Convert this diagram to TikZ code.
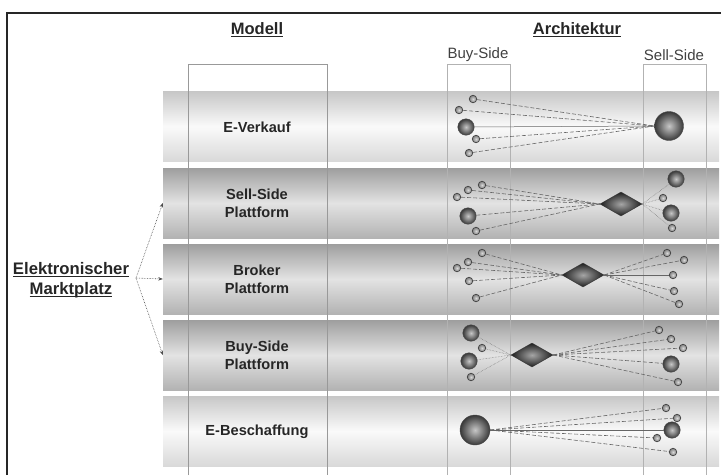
\documentclass[tikz,border=0pt]{standalone}
\usepackage{fontspec}
\setmainfont{Liberation Sans}
\usetikzlibrary{shapes.geometric,arrows.meta}
\def\ulword#1{\leavevmode\setbox0=\hbox{#1}\rlap{\rule[-2.6pt]{\wd0}{1.4pt}}\box0}
\tikzset{
	band/.style={minimum width=556pt, minimum height=70pt, inner sep=0pt},
	paleband/.style={band, top color=black!22, bottom color=black!15, middle color=black!2},
	greyband/.style={band, top color=black!38, bottom color=black!30, middle color=black!11},
	title/.style={font=\fontsize{16.5}{20}\selectfont\bfseries, text=black!85},
	sidetag/.style={font=\fontsize{15}{18}\selectfont, text=black!75},
	tag/.style={font=\fontsize{14.6}{17.7}\selectfont\bfseries, text=black!85, align=center},
	column/.style={line width=0.7pt, draw=black!30},
	knot/.style={circle, inner sep=0pt, minimum size=7.5pt, draw=black!75, line width=0.7pt, inner color=black!15, outer color=black!50},
	orb/.style={circle, inner sep=0pt, minimum size=16.5pt, draw=black!70, line width=0.4pt, inner color=black!22, outer color=black!78},
	bigorb/.style={orb, minimum size=29pt},
	hub/.style={diamond, inner sep=0pt, minimum width=42pt, minimum height=24pt, draw=black!80, line width=0.4pt, inner color=black!35, outer color=black!88},
	link/.style={line width=0.6pt, draw=black!60, dash pattern=on 4pt off 2pt},
	wire/.style={line width=0.5pt, draw=black!60},
	fine/.style={line width=0.5pt, draw=black!55, densely dotted},
	pointer/.style={line width=0.6pt, draw=black!70, densely dotted, -{Stealth[length=4.5pt,width=3.5pt]}}
}

\begin{document}
\begin{tikzpicture}[x=1pt, y=-1pt]
			%%%%% START %%%%%
			
			\useasboundingbox (0, 0) rectangle (721, 475);
			\draw[line width=1.5pt, color=black!85] (7, 475) -- (7, 13) -- (721, 13);
			
			\node[paleband] (verkauf) at (441, 126.5) {};
			\node[greyband] (sellpf) at (441, 203) {};
			\node[greyband] (brokerpf) at (441, 279) {};
			\node[greyband] (buypf) at (441, 355) {};
			\node[paleband] (beschaffung) at (441, 431) {};
			
			\draw[column, draw=black!40] (188, 475) -- (188, 64) -- (327, 64) -- (327, 475);
			\draw[column] (447, 475) -- (447, 64) -- (510, 64) -- (510, 475);
			\draw[column] (643, 475) -- (643, 64) -- (706, 64) -- (706, 475);
			
			\node[title] (modell) at (257, 30) {\ulword{Modell}};
			\node[title] (archi) at (577, 30) {\ulword{Architektur}};
			\node[sidetag] (buyside) at (478, 55) {Buy-Side};
			\node[sidetag] (sellside) at (674, 55) {Sell-Side};
			
			\node[tag] (lverkauf) at (257, 127) {E-Verkauf};
			\node[tag] (lsellpf) at (257, 203) {Sell-Side\\Plattform};
			\node[tag] (lbrokerpf) at (257, 279) {Broker\\Plattform};
			\node[tag] (lbuypf) at (257, 355) {Buy-Side\\Plattform};
			\node[tag] (lbeschaffung) at (257, 432) {E-Beschaffung};
			
			\node[tag, font=\fontsize{16.7}{20}\selectfont\bfseries] (markt) at (71, 280) {\ulword{Elektronischer}\\\ulword{Marktplatz}};
			\coordinate (fork) at (136, 278);
			\draw[pointer] (fork) -- (sellpf.west);
			\draw[pointer] (fork) -- (brokerpf.west);
			\draw[pointer] (fork) -- (buypf.west);
			
			\node[knot] (a1) at (473, 99) {};
			\node[knot] (a2) at (459, 110) {};
			\node[orb] (a3) at (466, 127) {};
			\node[knot] (a4) at (476, 139) {};
			\node[knot] (a5) at (469, 153) {};
			\node[bigorb] (aS) at (669, 126) {};
			\draw[link] (a1) -- (aS.west);
			\draw[link] (a2) -- (aS.west);
			\draw[wire] (a3) -- (aS.west);
			\draw[link] (a4) -- (aS.west);
			\draw[link] (a5) -- (aS.west);
			
			\node[knot] (b1) at (482, 185) {};
			\node[knot] (b2) at (468, 190) {};
			\node[knot] (b3) at (457, 197) {};
			\node[orb] (b4) at (468, 216) {};
			\node[knot] (b5) at (476, 231) {};
			\node[hub] (bH) at (621, 204) {};
			\node[orb] (b6) at (676, 179) {};
			\node[knot] (b7) at (663, 198) {};
			\node[orb] (b8) at (671, 213) {};
			\node[knot] (b9) at (672, 228) {};
			\draw[link] (b1) -- (bH.west);
			\draw[link] (b2) -- (bH.west);
			\draw[link] (b3) -- (bH.west);
			\draw[link] (b4) -- (bH.west);
			\draw[link] (b5) -- (bH.west);
			\draw[fine] (bH.east) -- (b6);
			\draw[fine] (bH.east) -- (b7);
			\draw[fine] (bH.east) -- (b8);
			\draw[fine] (bH.east) -- (b9);
			
			\node[knot] (c1) at (482, 253) {};
			\node[knot] (c2) at (468, 262) {};
			\node[knot] (c3) at (457, 268) {};
			\node[knot] (c4) at (469, 281) {};
			\node[knot] (c5) at (476, 298) {};
			\node[hub] (cH) at (583, 275) {};
			\node[knot] (c6) at (667, 253) {};
			\node[knot] (c7) at (684, 260) {};
			\node[knot] (c8) at (673, 275) {};
			\node[knot] (c9) at (674, 291) {};
			\node[knot] (c10) at (679, 304) {};
			\draw[link] (c1) -- (cH.west);
			\draw[link] (c2) -- (cH.west);
			\draw[link] (c3) -- (cH.west);
			\draw[link] (c4) -- (cH.west);
			\draw[link] (c5) -- (cH.west);
			\draw[link] (cH.east) -- (c6);
			\draw[link] (cH.east) -- (c7);
			\draw[wire] (cH.east) -- (c8);
			\draw[link] (cH.east) -- (c9);
			\draw[link] (cH.east) -- (c10);
			
			\node[orb] (d1) at (471, 333) {};
			\node[knot] (d2) at (482, 348) {};
			\node[orb] (d3) at (469, 361) {};
			\node[knot] (d4) at (471, 377) {};
			\node[hub] (dH) at (532, 355) {};
			\node[knot] (d5) at (659, 330) {};
			\node[knot] (d6) at (671, 339) {};
			\node[knot] (d7) at (683, 348) {};
			\node[orb] (d8) at (671, 364) {};
			\node[knot] (d9) at (678, 382) {};
			\draw[fine] (d1) -- (dH.west);
			\draw[fine] (d2) -- (dH.west);
			\draw[fine] (d3) -- (dH.west);
			\draw[fine] (d4) -- (dH.west);
			\draw[link] (dH.east) -- (d5);
			\draw[link] (dH.east) -- (d6);
			\draw[link] (dH.east) -- (d7);
			\draw[link] (dH.east) -- (d8);
			\draw[link] (dH.east) -- (d9);
			
			\node[bigorb, minimum size=30pt] (eB) at (475, 430) {};
			\node[knot] (e1) at (666, 408) {};
			\node[knot] (e2) at (677, 418) {};
			\node[orb] (e3) at (672, 430) {};
			\node[knot] (e4) at (657, 438) {};
			\node[knot] (e5) at (673, 452) {};
			\draw[link] (eB.east) -- (e1);
			\draw[link] (eB.east) -- (e2);
			\draw[wire] (eB.east) -- (e3);
			\draw[link] (eB.east) -- (e4);
			\draw[link] (eB.east) -- (e5);
			
			%%%%% END %%%%%
		\end{tikzpicture}
\end{document}
